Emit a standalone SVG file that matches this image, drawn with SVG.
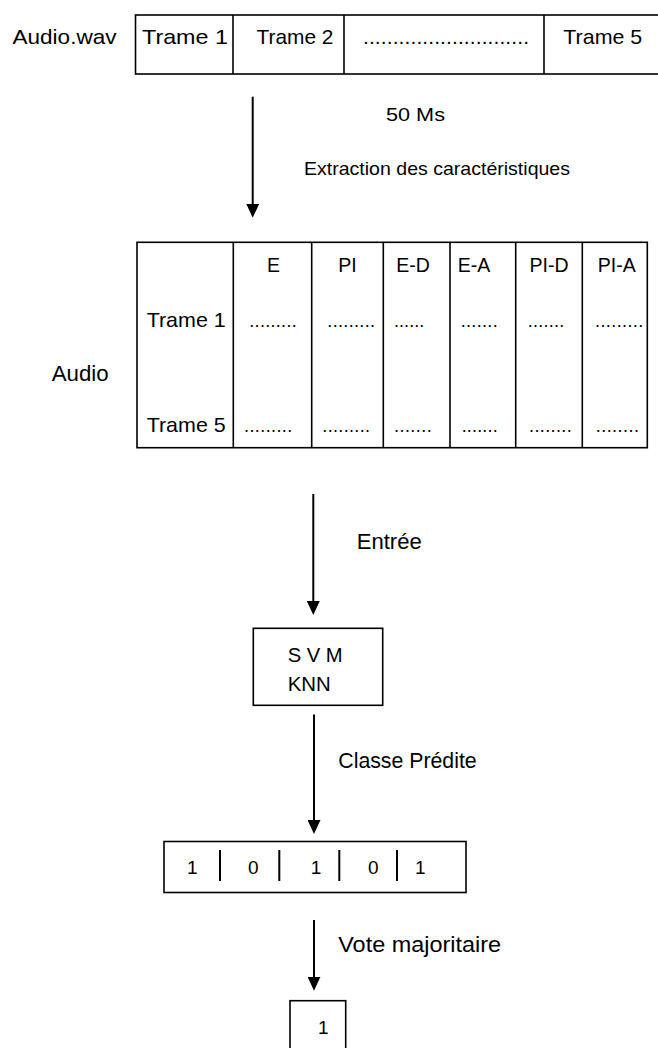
<svg xmlns="http://www.w3.org/2000/svg" width="658" height="1048" viewBox="0 0 658 1048">
<style>
text{font-family:"Liberation Sans",Arial,sans-serif;fill:#000}
.box{fill:none;stroke:#000;stroke-width:1.6}
.div{stroke:#000;stroke-width:1.6}
.sep{stroke:#000;stroke-width:2}
.arr{stroke:#000;stroke-width:2;fill:none;marker-end:url(#ah)}
.lbl{font-size:21px}
.hd{font-size:19.5px}
.dg{font-size:19px}
</style>
<defs>
<marker id="ah" viewBox="0 0 14 13" refX="8" refY="6.5" markerWidth="14" markerHeight="13" markerUnits="userSpaceOnUse" orient="auto">
<path d="M0,0 L14,6.5 L0,13 Z" fill="#000"/>
</marker>
</defs>
<rect width="658" height="1048" fill="#fff"/>

<g id="audio-wav">
<text class="lbl" x="12.5" y="44" font-size="22" textLength="104" lengthAdjust="spacingAndGlyphs">Audio.wav</text>
<rect class="box" x="135.5" y="15" width="540" height="59"/>
<line class="div" x1="233" y1="15" x2="233" y2="74"/>
<line class="div" x1="344" y1="15" x2="344" y2="74"/>
<line class="div" x1="544" y1="15" x2="544" y2="74"/>
<text class="lbl" x="142" y="44" font-size="22" textLength="86" lengthAdjust="spacingAndGlyphs">Trame 1</text>
<text class="lbl" x="256.5" y="44" textLength="77" lengthAdjust="spacingAndGlyphs">Trame 2</text>
<text class="lbl" x="363" y="44" textLength="166" lengthAdjust="spacing">............................</text>
<text class="lbl" x="563.3" y="44" textLength="79" lengthAdjust="spacingAndGlyphs">Trame 5</text>
</g>

<g id="labels-top">
<text x="386" y="121" font-size="18.5" textLength="59" lengthAdjust="spacingAndGlyphs">50 Ms</text>
<text x="304" y="175" font-size="18.6" textLength="266" lengthAdjust="spacingAndGlyphs">Extraction des caractéristiques</text>
</g>

<g id="feature-table">
<text x="51.7" y="380.5" font-size="22" textLength="57" lengthAdjust="spacingAndGlyphs">Audio</text>
<rect class="box" x="137" y="242.3" width="510.3" height="205.4"/>
<line class="div" x1="233.3" y1="242.3" x2="233.3" y2="447.7"/>
<line class="div" x1="311.7" y1="242.3" x2="311.7" y2="447.7"/>
<line class="div" x1="383.3" y1="242.3" x2="383.3" y2="447.7"/>
<line class="div" x1="450" y1="242.3" x2="450" y2="447.7"/>
<line class="div" x1="515.7" y1="242.3" x2="515.7" y2="447.7"/>
<line class="div" x1="582.3" y1="242.3" x2="582.3" y2="447.7"/>
<text class="hd" x="273.5" y="271.7" text-anchor="middle">E</text>
<text class="hd" x="347.5" y="271.7" text-anchor="middle">PI</text>
<text class="hd" x="413" y="271.7" text-anchor="middle">E-D</text>
<text class="hd" x="474" y="271.7" text-anchor="middle">E-A</text>
<text class="hd" x="549" y="271.7" text-anchor="middle">PI-D</text>
<text class="hd" x="616.7" y="271.7" text-anchor="middle">PI-A</text>
<text class="lbl" x="146.7" y="327" textLength="79" lengthAdjust="spacingAndGlyphs">Trame 1</text>
<text class="lbl" x="146.7" y="431.7" textLength="79" lengthAdjust="spacingAndGlyphs">Trame 5</text>
<g font-size="18">
<text x="249.3" y="327" textLength="47.4" lengthAdjust="spacing">.........</text>
<text x="327.3" y="327" textLength="47.7" lengthAdjust="spacing">.........</text>
<text x="394" y="327" textLength="30.3" lengthAdjust="spacing">......</text>
<text x="460.7" y="327" textLength="37" lengthAdjust="spacing">.......</text>
<text x="527.7" y="327" textLength="36.6" lengthAdjust="spacing">.......</text>
<text x="595" y="327" textLength="48.3" lengthAdjust="spacing">.........</text>
<text x="244" y="431.7" textLength="48.3" lengthAdjust="spacing">.........</text>
<text x="322.3" y="431.7" textLength="47.7" lengthAdjust="spacing">.........</text>
<text x="394" y="431.7" textLength="37.7" lengthAdjust="spacing">.......</text>
<text x="461.7" y="431.7" textLength="36" lengthAdjust="spacing">.......</text>
<text x="529" y="431.7" textLength="42.7" lengthAdjust="spacing">........</text>
<text x="595.7" y="431.7" textLength="43.3" lengthAdjust="spacing">........</text>
</g>
</g>

<g id="labels-mid">
<text x="356.7" y="549" font-size="22" textLength="65" lengthAdjust="spacingAndGlyphs">Entrée</text>
<text x="338.3" y="768.3" font-size="22" textLength="138.4" lengthAdjust="spacingAndGlyphs">Classe Prédite</text>
<text x="338.3" y="952.3" font-size="22.5" textLength="162.7" lengthAdjust="spacingAndGlyphs">Vote majoritaire</text>
</g>

<g id="classifier">
<rect class="box" x="253.3" y="628.3" width="129.4" height="77"/>
<text x="287.7" y="661.7" font-size="20.5" textLength="55" lengthAdjust="spacingAndGlyphs">S V M</text>
<text x="287.7" y="690.7" font-size="20.5" textLength="43" lengthAdjust="spacingAndGlyphs">KNN</text>
</g>

<g id="predictions">
<rect class="box" x="164" y="841.5" width="302" height="51"/>
<line class="sep" x1="220" y1="850" x2="220" y2="881"/>
<line class="sep" x1="279.3" y1="850" x2="279.3" y2="881"/>
<line class="sep" x1="339.3" y1="850" x2="339.3" y2="881"/>
<line class="sep" x1="397" y1="850" x2="397" y2="881"/>
<text class="dg" x="187" y="874">1</text>
<text class="dg" x="248" y="874">0</text>
<text class="dg" x="310.7" y="874">1</text>
<text class="dg" x="368" y="874">0</text>
<text class="dg" x="415" y="874">1</text>
</g>

<g id="result">
<rect class="box" x="290" y="1000.7" width="55.7" height="60"/>
<text x="318" y="1034" font-size="19">1</text>
</g>

<g id="connectors">
<line class="arr" x1="252.7" y1="96.7" x2="252.7" y2="211.7"/>
<line class="arr" x1="313.3" y1="494" x2="313.3" y2="609"/>
<line class="arr" x1="314" y1="714.5" x2="314" y2="828"/>
<line class="arr" x1="314" y1="920" x2="314" y2="984.7"/>
</g>
</svg>
